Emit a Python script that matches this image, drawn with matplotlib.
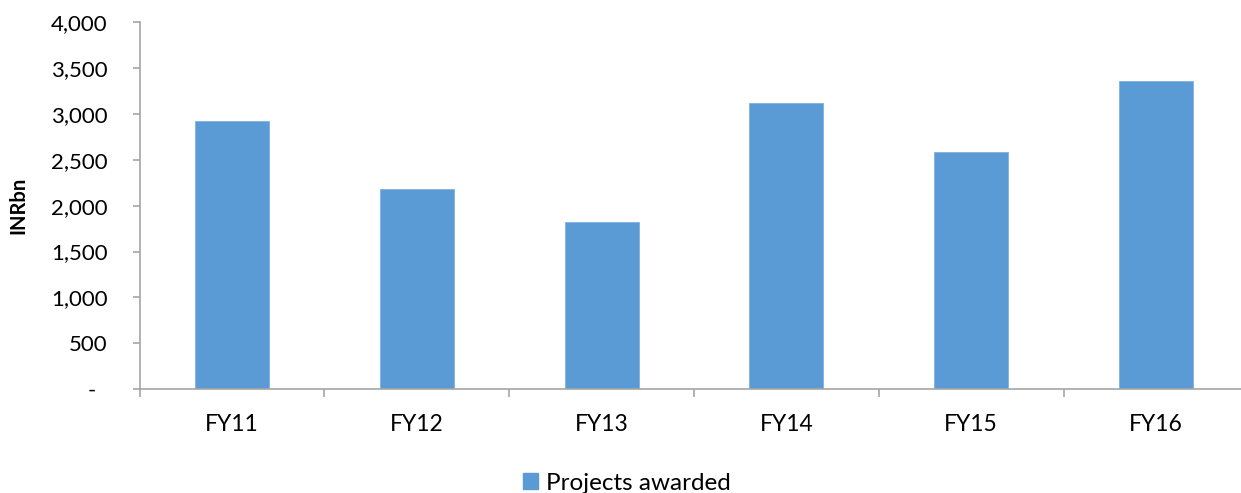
import matplotlib
matplotlib.use("Agg")
import matplotlib.pyplot as plt
from matplotlib.patches import Patch
import numpy as np

categories = ["FY11", "FY12", "FY13", "FY14", "FY15", "FY16"]
projects_awarded = [2922, 2178, 1822, 3115, 2588, 3357]
yticks = [0, 500, 1000, 1500, 2000, 2500, 3000, 3500, 4000]
ytick_labels = ["-  ", "500", "1,000", "1,500", "2,000", "2,500", "3,000", "3,500", "4,000"]

plt.rcParams['font.family'] = ['Lato', 'DejaVu Sans']
W, H = 1241, 493
fig = plt.figure(figsize=(W / 100, H / 100), dpi=100)
left, right, top, bottom = 139.5, 1248.5, 22, 389.3
ax = fig.add_axes([left / W, 1 - bottom / H, (right - left) / W, (bottom - top) / H])

bar_color = "#5B9BD5"
x = np.arange(len(categories))
ax.bar(x, projects_awarded, width=0.4, color=bar_color, edgecolor="#7FB1E0", linewidth=0.6)

ax.set_xlim(-0.5, len(categories) - 0.5)
ax.set_ylim(0, 4000)
ax.set_yticks(yticks)
ax.set_yticklabels(ytick_labels)
ax.set_xticks(x)
ax.set_xticklabels(categories)
ax.set_xticks(np.arange(-0.5, len(categories) + 0.5, 1), minor=True)

axis_col = "#A6A6A6"
for s in ["top", "right"]:
    ax.spines[s].set_visible(False)
for s in ["left", "bottom"]:
    ax.spines[s].set_color(axis_col)
    ax.spines[s].set_linewidth(1.2)

ax.tick_params(axis='y', direction='out', length=5, width=1.2, color=axis_col,
               labelsize=16, pad=18, labelcolor="#000000")
ax.tick_params(axis='x', which='major', length=0, labelsize=16.5, pad=18, labelcolor="#000000")
ax.tick_params(axis='x', which='minor', direction='out', length=6, width=1.2, color=axis_col)

fig.text(18 / W, 1 - 205.5 / H, "INRbn", rotation=90, ha='center', va='center',
         fontsize=14.5, fontweight='bold')

handle = Patch(facecolor=bar_color, edgecolor=bar_color)
fig.legend([handle], ["Projects awarded"], loc='center', bbox_to_anchor=(627 / W, 1 - 483 / H),
           frameon=False, fontsize=17.5, handlelength=0.6, handleheight=0.6, handletextpad=0.35)

fig.savefig("out.png", dpi=100)
